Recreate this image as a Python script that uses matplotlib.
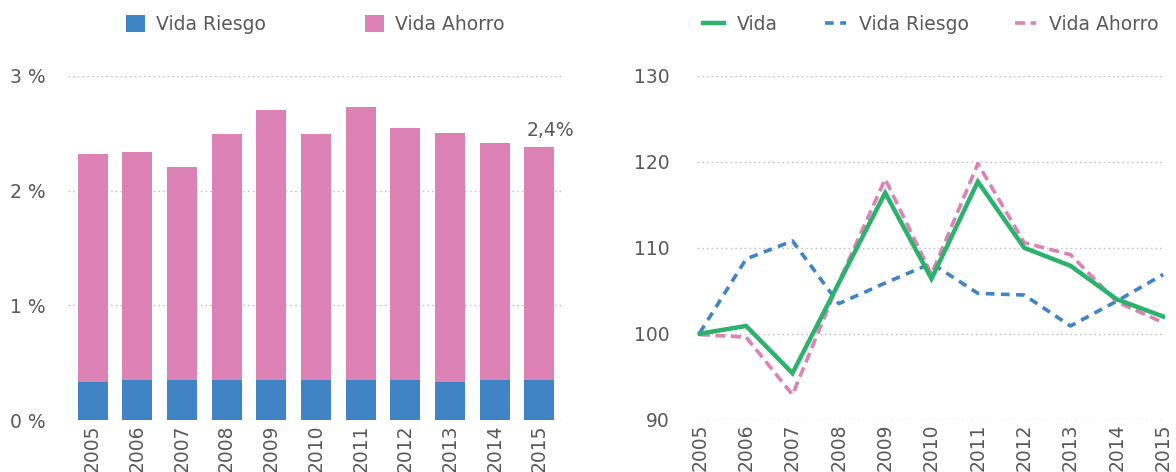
import matplotlib
matplotlib.use("Agg")
import matplotlib.pyplot as plt
import numpy as np

anios = ["2005", "2006", "2007", "2008", "2009", "2010", "2011", "2012", "2013", "2014", "2015"]

# peso sobre el PIB (%)
vida_riesgo = [0.33, 0.35, 0.35, 0.35, 0.35, 0.35, 0.35, 0.35, 0.33, 0.35, 0.35]
vida_ahorro = [1.99, 1.99, 1.86, 2.14, 2.35, 2.14, 2.38, 2.20, 2.17, 2.07, 2.03]

# indices base 2005 = 100
idx_vida = [100.0, 100.9, 95.4, 105.9, 116.4, 106.4, 117.7, 110.0, 107.9, 104.0, 102.0]
idx_riesgo = [100.1, 108.7, 110.8, 103.5, 105.9, 108.2, 104.7, 104.5, 100.9, 103.8, 106.9]
idx_ahorro = [99.9, 99.6, 92.9, 106.0, 118.0, 106.9, 119.8, 110.6, 109.2, 103.7, 101.3]

AZUL = "#4084c6"
ROSA = "#dc82b5"
VERDE = "#2bb26c"
GRIS = "#595959"
REJILLA = "#c4c4c4"

plt.rcParams["font.family"] = "DejaVu Sans"
plt.rcParams["font.size"] = 13.5
plt.rcParams["text.color"] = GRIS

fig = plt.figure(figsize=(11.76, 4.72), dpi=100)
ax1 = fig.add_axes([0.0578, 0.110, 0.421, 0.729])
ax2 = fig.add_axes([0.5927, 0.111, 0.398, 0.728])

x = np.arange(len(anios))

# --- barras apiladas
ax1.bar(x, vida_riesgo, width=0.67, color=AZUL, label="Vida Riesgo", zorder=3)
ax1.bar(x, vida_ahorro, width=0.67, bottom=vida_riesgo, color=ROSA,
        label="Vida Ahorro", zorder=3)
total = np.array(vida_riesgo) + np.array(vida_ahorro)
ax1.annotate(f"{total[-1]:.1f}".replace(".", ",") + "%", (x[-1], total[-1]),
             xytext=(8, 5), textcoords="offset points", ha="center", va="bottom",
             color=GRIS, fontsize=13.5)
ax1.set_xlim(-0.55, 10.53)
ax1.set_ylim(0, 3)
ax1.set_yticks([0, 1, 2, 3])
ax1.set_yticklabels(["0 %", "1 %", "2 %", "3 %"])
ax1.tick_params(axis="y", pad=16)
ax1.legend(loc="center", bbox_to_anchor=(0.5, 1.15), ncol=2, frameon=False,
           handlelength=1.0, handleheight=1.0, handletextpad=0.6,
           columnspacing=5.3, borderaxespad=0)

# --- indices
ax2.plot(x, idx_vida, color=VERDE, lw=3.2, label="Vida", zorder=4,
         solid_joinstyle="miter")
ax2.plot(x, idx_riesgo, color=AZUL, lw=2.6, dashes=(2.4, 1.8), label="Vida Riesgo",
         zorder=3)
ax2.plot(x, idx_ahorro, color=ROSA, lw=2.6, dashes=(2.8, 1.5), label="Vida Ahorro",
         zorder=3)
ax2.set_xlim(-0.06, 10.04)
ax2.set_ylim(90, 130)
ax2.set_yticks([90, 100, 110, 120, 130])
ax2.tick_params(axis="y", pad=20)
ax2.legend(loc="center", bbox_to_anchor=(0.5, 1.15), ncol=3, frameon=False,
           handlelength=1.1, handletextpad=0.7, columnspacing=2.5, borderaxespad=0)

for ax in (ax1, ax2):
    ax.set_xticks(x)
    ax.set_xticklabels(anios, rotation=90)
    ax.tick_params(axis="x", pad=3)
    ax.tick_params(length=0, colors=GRIS, labelsize=13.5)
    for s in ax.spines.values():
        s.set_visible(False)
    ax.grid(axis="y", color=REJILLA, lw=1.0, dashes=(1.2, 2.2), zorder=0)
    ax.set_axisbelow(True)

fig.savefig("out.png", dpi=100)
